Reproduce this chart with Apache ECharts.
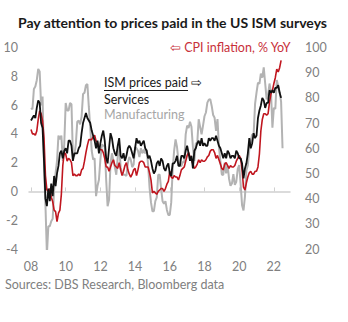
<!DOCTYPE html>
<html><head><meta charset="utf-8">
<script src="https://cdn.jsdelivr.net/npm/echarts@6/dist/echarts.min.js"></script>
<style>html,body{margin:0;padding:0;background:#fff;}#c{width:348px;height:322px;}</style>
</head><body><div id="c"></div>
<script>
// Monthly data, Jan 2008 .. mid 2022
const startYear = 2008;
const cpi = [
 4.3,4.0,4.0,3.9,4.2,5.0,5.6,5.4,4.9,3.7,1.1,0.1,
 0.0,0.2,-0.4,-0.7,-1.3,-1.4,-2.1,-1.5,-1.3,-0.2,1.8,2.7,
 2.6,2.1,2.3,2.2,2.0,1.1,1.2,1.1,1.1,1.2,1.1,1.5,
 1.6,2.1,2.7,3.2,3.6,3.6,3.6,3.8,3.9,3.5,3.4,3.0,
 2.9,2.9,2.7,2.3,1.7,1.7,1.4,1.7,2.0,2.2,1.8,1.7,
 1.6,2.0,1.5,1.1,1.4,1.8,2.0,1.5,1.2,1.0,1.2,1.5,
 1.6,1.1,1.5,2.0,2.1,2.1,2.0,1.7,1.7,1.7,1.3,0.8,
 -0.1,0.0,-0.1,-0.2,0.0,0.1,0.2,0.2,0.0,0.2,0.5,0.7,
 1.4,1.0,0.9,1.1,1.0,1.0,0.8,1.1,1.5,1.6,1.7,2.1,
 2.5,2.7,2.4,2.2,1.9,1.6,1.7,1.9,2.2,2.0,2.2,2.1,
 2.1,2.2,2.4,2.5,2.8,2.9,2.9,2.7,2.3,2.5,2.2,1.9,
 1.6,1.5,1.9,2.0,1.8,1.6,1.8,1.7,1.7,1.8,2.1,2.3,
 2.5,2.3,1.5,0.3,0.1,0.6,1.0,1.3,1.4,1.2,1.2,1.4,
 1.4,1.7,2.6,4.2,5.0,5.4,5.4,5.3,5.4,6.2,6.8,7.0,
 7.5,7.9,8.5,8.3,8.6,9.1
];
const services = [
 71,72,73,72,76,79,78,70,68,55,40,37,
 44,39,46,41,49,45,50,53,58,59,56,59,
 60,58,63,63,61,55,58,58,58,60,61,66,
 70,72,74,72,71,70,67,65,63,60,63,58,
 62,65,67,63,56,54,60,66,64,60,58,57,
 61,64,57,56,58,55,57,60,61,60,58,56,
 60,64,62,63,61,62,63,60,59,56,57,55,
 52,50,51,54,55,53,56,55,52,51,53,54,
 50,49,54,54,55,57,53,53,57,57,56,59,
 61,58,55,57,52,59,60,62,63,61,64,61,
 62,61,61,64,63,64,64,63,65,63,61,60,
 58,56,58,56,59,58,56,57,57,56,59,58,
 56,56,54,48,52,54,58,64,60,62,66,64,
 65,72,75,77,80,79,76,78,78,83,82,83,
 82,84,84,85,82,80
];
const manufacturing = [
 76.0,75.5,83.5,84.5,87.0,91.5,90.5,77.0,80.5,53.5,37.5,18.0,
 29.0,29.0,31.0,32.0,43.5,50.0,55.0,65.0,63.5,65.0,55.0,61.5,
 78.0,75.0,75.0,78.0,77.5,57.0,57.0,61.5,70.5,71.0,69.5,72.5,
 81.5,82.0,85.0,85.5,76.5,68.0,59.0,55.5,56.0,41.0,45.0,47.5,
 55.5,61.5,61.0,61.0,47.5,37.0,39.5,54.0,58.0,55.0,52.5,49.5,
 56.5,61.5,52.5,50.0,49.5,49.5,49.0,54.0,56.5,55.5,52.5,53.5,
 60.5,60.0,59.0,56.5,60.0,58.0,59.5,58.0,59.5,53.5,44.5,38.5,
 35.0,35.0,39.0,40.5,49.5,49.5,44.0,39.0,38.0,39.0,35.5,33.5,
 33.5,38.5,51.5,59.0,63.5,60.5,55.0,53.0,53.0,54.5,54.5,65.5,
 69.0,68.0,70.5,68.5,60.5,55.0,62.0,62.0,71.5,68.5,65.5,69.0,
 72.7,74.2,78.1,79.3,79.5,76.8,73.2,72.1,66.9,71.6,60.7,54.9,
 49.6,49.4,54.3,50.0,53.2,47.9,45.1,46.0,49.7,45.5,46.7,51.7,
 53.3,45.9,37.4,35.3,40.8,51.3,53.2,59.5,62.8,65.5,65.4,77.6,
 82.1,86.0,85.6,89.6,88.0,92.1,85.7,79.4,81.2,85.7,82.4,68.2,
 76.1,75.6,87.1,84.6,82.2,78.5,60.0
];
const yearTicks = [2008,2010,2012,2014,2016,2018,2020,2022];
const leftTicks = [-4,10,2];   // min, max, step
const rightTicks = [20,100,10];

const toPairs = arr => arr.map((v,i)=>[startYear + i/12, v]);
const F = 'Lato, "Open Sans", sans-serif';

const chart = echarts.init(document.getElementById('c'), null, {renderer:'svg'});
chart.setOption({
  animation:false,
  backgroundColor:'#fff',
  title:{text:'Pay attention to prices paid in the US ISM surveys', left:13, top:10,
    textStyle:{fontFamily:F, fontWeight:'bold', fontSize:14, color:'#1a1a1a'}},
  grid:{left:29, right:58, top:47.5, bottom:73, outerBoundsMode:'none', containLabel:false},
  xAxis:{type:'value', min:2007.885, max:2022.93,
    axisLine:{onZero:true, onZeroAxisIndex:0, lineStyle:{color:'#d0d0d0', width:1.5}},
    axisTick:{show:true, inside:true, length:4, customValues:yearTicks, lineStyle:{color:'#d0d0d0'}},
    axisLabel:{customValues:yearTicks, margin:11, color:'#808080', fontFamily:F, fontSize:12.5,
      formatter:v=>String(Math.round(v)%100).padStart(2,'0')},
    splitLine:{show:false}},
  yAxis:[
    {type:'value', min:leftTicks[0], max:leftTicks[1], interval:leftTicks[2], position:'left',
     axisLine:{show:false}, axisTick:{show:false}, splitLine:{show:false},
     axisLabel:{margin:11, color:'#808080', fontFamily:F, fontSize:12.5}},
    {type:'value', min:rightTicks[0], max:rightTicks[1], interval:rightTicks[2], position:'right',
     axisLine:{show:false}, axisTick:{show:false}, splitLine:{show:false},
     axisLabel:{margin:15, color:'#808080', fontFamily:F, fontSize:12.5}}
  ],
  series:[
    {name:'Manufacturing', type:'line', yAxisIndex:1, data:toPairs(manufacturing), showSymbol:false,
     lineStyle:{color:'#b3b3b3', width:2}},
    {name:'CPI', type:'line', yAxisIndex:0, data:toPairs(cpi), showSymbol:false,
     lineStyle:{color:'#c0161f', width:1.6}},
    {name:'Services', type:'line', yAxisIndex:1, data:toPairs(services), showSymbol:false,
     lineStyle:{color:'#111111', width:1.8}}
  ],
  graphic:[
    {type:'text', left:170, top:41, style:{text:'⇦ CPI inflation, % YoY', fill:'#c8303a', font:'12.5px '+F}},
    {type:'text', left:104, top:76, style:{text:'ISM prices paid ⇨', fill:'#1a1a1a', font:'12.5px '+F}},
    {type:'rect', shape:{x:104, y:90, width:84, height:1}, style:{fill:'#1a1a1a'}},
    {type:'text', left:104, top:93, style:{text:'Services', fill:'#1a1a1a', font:'12.5px '+F}},
    {type:'text', left:104, top:108, style:{text:'Manufacturing', fill:'#a6a6a6', font:'12.5px '+F}},
    {type:'text', left:5, top:278, style:{text:'Sources: DBS Research, Bloomberg data', fill:'#808080', font:'12.5px '+F}}
  ]
});
</script></body></html>
